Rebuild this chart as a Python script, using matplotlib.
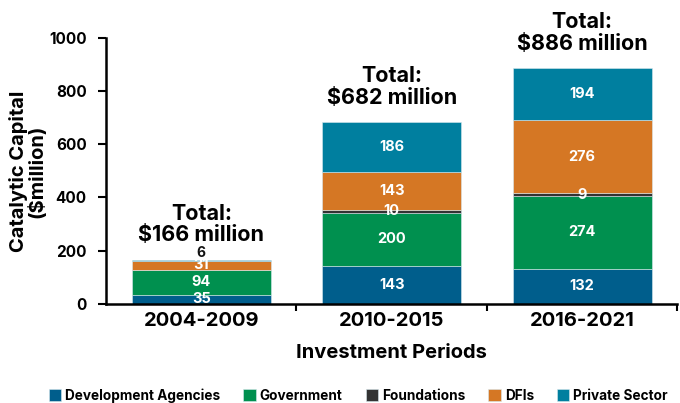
import matplotlib.pyplot as plt
import numpy as np

periods = ['2004-2009', '2010-2015', '2016-2021']
series = ['Development Agencies', 'Government', 'Foundations', 'DFIs', 'Private Sector']
dev_agencies = [35, 143, 132]
government = [94, 200, 274]
foundations = [0, 10, 9]
dfis = [31, 143, 276]
private_sector = [6, 186, 194]
totals = [166, 682, 886]

colors = ['#005e8c', '#00904f', '#333333', '#d57724', '#007f9f']

plt.rcParams['font.family'] = ['Inter', 'DejaVu Sans']
plt.rcParams['font.weight'] = 'bold'

fig = plt.figure(figsize=(6.8, 4.03), dpi=100)
ax = fig.add_axes([0.156, 0.246, 0.84, 0.66])

x = np.arange(len(periods))
width = 0.73
bottom = np.zeros(len(periods))
values = [dev_agencies, government, foundations, dfis, private_sector]
for name, vals, col in zip(series, values, colors):
    vals = np.array(vals, dtype=float)
    ax.bar(x, vals, width, bottom=bottom, color=col, label=name,
           edgecolor='#d8e8ee', linewidth=0.4)
    for i, v in enumerate(vals):
        if v <= 0:
            continue
        yc = bottom[i] + v / 2
        if name == 'Private Sector' and v < 20:
            # tiny segment: label sits just above the bar in dark text
            ax.annotate(f'{v:.0f}', (x[i], bottom[i] + v), xytext=(0, 5),
                        textcoords='offset points', ha='center', va='center',
                        color='#111111', fontsize=10, fontweight='bold')
        else:
            ax.text(x[i], yc, f'{v:.0f}', ha='center', va='center',
                    color='white', fontsize=10.5, fontweight='bold')
    bottom += vals

for i, t in enumerate(totals):
    ax.annotate(f'Total:\n${t} million', (x[i], bottom[i]), xytext=(0, 10.5),
                textcoords='offset points', ha='center', va='bottom',
                fontsize=15.5, fontweight='bold', linespacing=1.1)

ax.set_xlim(-0.5, 2.5)
ax.set_ylim(0, 1000)
ax.set_yticks(range(0, 1001, 200))
ax.set_xticks(x)
ax.set_xticklabels(periods, fontsize=14.5, fontweight='bold')
ax.set_xticks([0.5, 1.5, 2.5], minor=True)
ax.tick_params(axis='x', which='major', length=0, pad=6)
ax.tick_params(axis='x', which='minor', length=5, width=1.5)
ax.tick_params(axis='y', length=6, width=1.5, labelsize=11, pad=8)
for lab in ax.get_yticklabels():
    lab.set_fontweight('bold')

for s in ['top', 'right']:
    ax.spines[s].set_visible(False)
for s in ['left', 'bottom']:
    ax.spines[s].set_linewidth(1.8)

ax.set_xlabel('Investment Periods', fontsize=14.5, fontweight='bold', labelpad=10)
ax.set_ylabel('Catalytic Capital\n($million)', fontsize=14.5, fontweight='bold',
              linespacing=0.95, labelpad=2)

fig.legend(loc='lower center', bbox_to_anchor=(0.527, -0.03), ncol=5,
           frameon=False, handlelength=0.9, handleheight=0.9,
           handletextpad=0.3, columnspacing=1.7, prop={'weight': 'bold', 'size': 9.8})

fig.savefig('out.png', dpi=100)
